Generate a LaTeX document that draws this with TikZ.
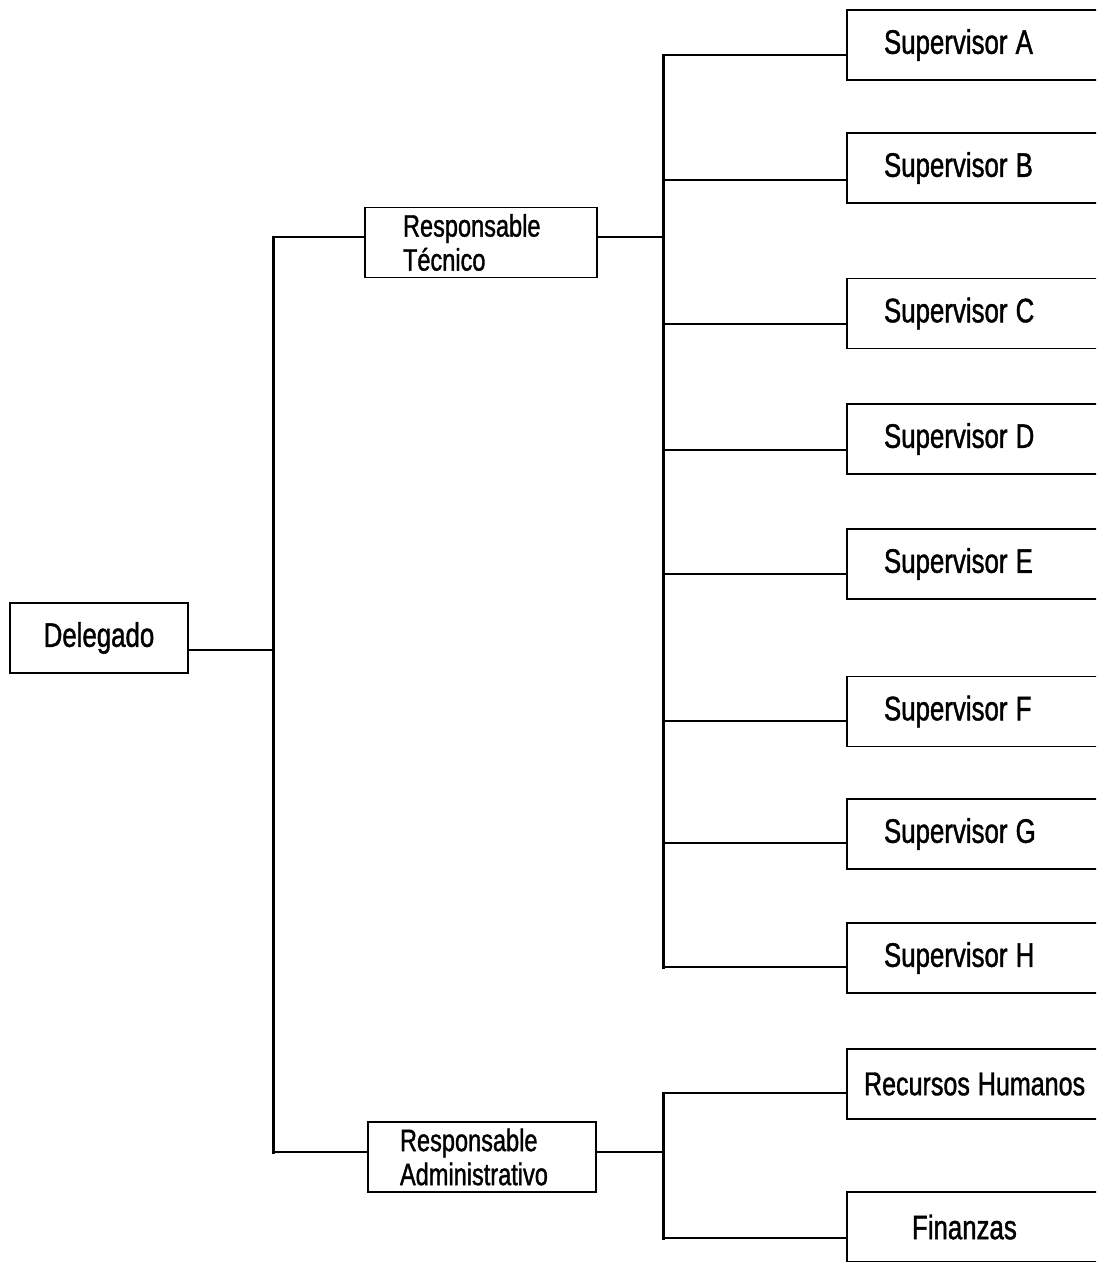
\documentclass[tikz,border=0pt]{standalone}
\usepackage{fontspec}
\setmainfont{Liberation Sans}[FakeStretch=0.76, FakeBold=1.2]
\newcommand{\tightsp}{\spaceskip=0.24em\relax\xspaceskip=0.24em\relax}
\begin{document}
\begin{tikzpicture}[x=1pt,y=-1pt,
  box/.style={draw, line width=1.8pt, rectangle, inner ysep=0pt, minimum height=70pt,
    font=\fontsize{34}{36}\selectfont, execute at begin node=\tightsp},
  supbox/.style={box, inner xsep=37pt, text width=196pt, align=left},
  respbox/.style={box, align=left, font=\fontsize{31}{34}\selectfont},
  conn/.style={line width=1.3pt},
  trunk/.style={line width=3pt, line cap=rect}]
\useasboundingbox (0,0) rectangle (1096,1262);
\clip (0,0) rectangle (1096,1262);

% boxes
\node[box, minimum width=178pt, inner xsep=0pt] (del) at (99,638) {Delegado};
\node[respbox, inner xsep=38pt, text width=156pt] (rt) at (481,242.5) {Responsable\\Técnico};
\node[respbox, inner xsep=32pt, text width=164pt] (ra) at (482,1157) {Responsable\\Administrativo};

\node[supbox] (sa) at (982,45) {Supervisor A};
\node[supbox] (sb) at (982,168) {Supervisor B};
\node[supbox] (sc) at (982,313.5) {Supervisor C};
\node[supbox] (sd) at (982,439) {Supervisor D};
\node[supbox] (se) at (982,564) {Supervisor E};
\node[supbox] (sf) at (982,711.5) {Supervisor F};
\node[supbox] (sg) at (982,834) {Supervisor G};
\node[supbox] (sh) at (982,958) {Supervisor H};
\node[box, inner xsep=17pt, text width=236pt, align=left, font=\fontsize{33}{36}\selectfont] (rh) at (982,1084) {Recursos Humanos};
\node[box, inner xsep=65pt, text width=140pt, align=left] (fin) at (982,1227) {Finanzas};

% trunks
\coordinate (ltop) at (273,237);
\coordinate (lbot) at (273,1152);
\coordinate (rtop) at (663,55);
\coordinate (rbot) at (663,967);
\coordinate (atop) at (663,1093);
\coordinate (abot) at (663,1238);
\draw[trunk] (ltop) -- (lbot);
\draw[trunk] (rtop) -- (rbot);
\draw[trunk] (atop) -- (abot);

% connectors
\draw[conn] (del.east |- 0,650) -- (ltop |- 0,650);
\draw[conn] (ltop) -- (rt.west |- ltop);
\draw[conn] (lbot) -- (ra.west |- lbot);
\draw[conn] (rt.east |- 0,237) -- (rtop |- 0,237);
\draw[conn] (ra.east |- 0,1152) -- (atop |- 0,1152);

\draw[conn] (rtop) -- (sa.west |- rtop);
\draw[conn] (rtop |- 0,180) -- (sb.west |- 0,180);
\draw[conn] (rtop |- 0,324) -- (sc.west |- 0,324);
\draw[conn] (rtop |- 0,450) -- (sd.west |- 0,450);
\draw[conn] (rtop |- 0,574) -- (se.west |- 0,574);
\draw[conn] (rtop |- 0,721) -- (sf.west |- 0,721);
\draw[conn] (rtop |- 0,843) -- (sg.west |- 0,843);
\draw[conn] (rbot) -- (sh.west |- rbot);
\draw[conn] (atop) -- (rh.west |- atop);
\draw[conn] (abot) -- (fin.west |- abot);
\end{tikzpicture}
\end{document}
